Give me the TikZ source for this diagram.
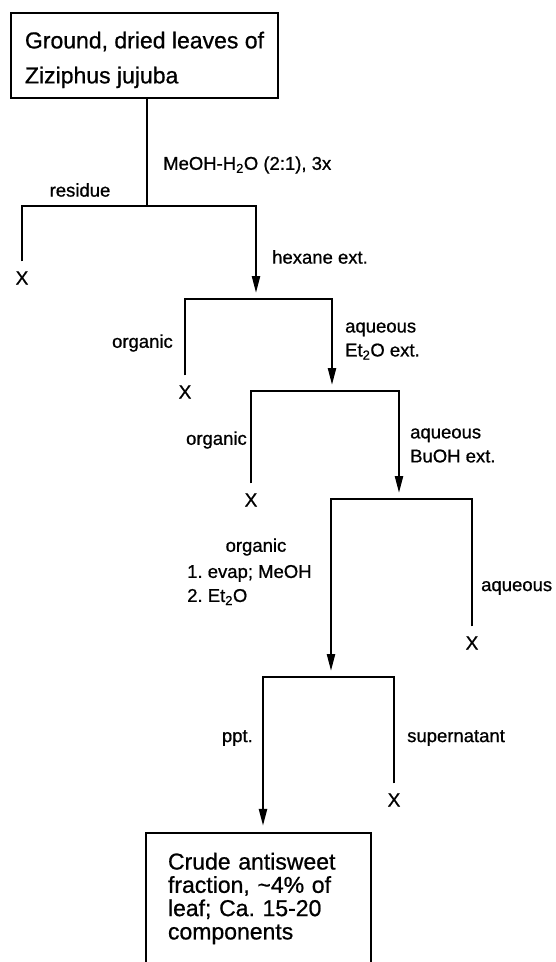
\documentclass[tikz,border=0pt]{standalone}
\usepackage{fontspec}
\setmainfont{Liberation Sans}[FakeBold=0.8]
\usetikzlibrary{arrows.meta,calc}
\begin{document}
\frenchspacing
\begin{tikzpicture}[x=1pt,y=-1pt,
  ln/.style={line width=2.3pt},
  arr/.style={ln,-{Triangle[length=17pt,width=8pt]},shorten >=6pt},
  boxnode/.style={draw,line width=2.3pt,align=left,inner sep=0pt},
  lbl/.style={font=\fontsize{18.5}{24}\selectfont,inner sep=0pt,align=left},
  xn/.style={font=\fontsize{19}{24}\selectfont,inner sep=0pt,outer ysep=10pt},
]
\fill[white] (0,0) rectangle (556,962);
\useasboundingbox (0,0) rectangle (556,962);

% boxes
\node[boxnode,minimum width=267pt,minimum height=85pt,font=\fontsize{23}{35}\selectfont]
  (src) at (144.5,55.5) {\rule{0pt}{25.5pt}Ground, dried leaves of\\Ziziphus jujuba};
\node[boxnode,minimum width=225pt,minimum height=131pt,text width=181pt,font=\fontsize{23}{23.3}\selectfont]
  (dst) at (258.5,898.5) {Crude antisweet\\fraction, \textasciitilde4\% of\\leaf; Ca. 15-20\\components};

% junction coordinates
\coordinate (j1) at (147,206);
\coordinate (b1r) at (256,206);
\coordinate (j2) at (256,299);
\coordinate (b2r) at (332,299);
\coordinate (j3) at (332,391);
\coordinate (b3r) at (399,391);
\coordinate (j4) at (399,499);
\coordinate (b4l) at (331,499);
\coordinate (j5) at (331,677);
\coordinate (b5l) at (263,677);

% discarded fractions
\node[xn] (x1) at (22,278) {X};
\node[xn] (x2) at (185,392) {X};
\node[xn] (x3) at (251,500) {X};
\node[xn] (x4) at (472,643) {X};
\node[xn] (x5) at (394,800) {X};

% connectors
\draw[ln] (src.south -| j1) -- (j1);
\draw[arr] (x1.north) |- (b1r) -- (j2);
\draw[arr] (x2.north) |- (b2r) -- (j3);
\draw[arr] (x3.north) |- (b3r) -- (j4);
\draw[arr] (x4.north) |- (b4l) -- (j5);
\draw[arr] (x5.north) |- (b5l) -- (dst.north -| b5l);

% labels
\node[lbl,anchor=west] (l0) at (163,165) {MeOH-H\textsubscript{2}O (2:1), 3x};
\node[lbl] (l1) at (80,190) {residue};
\node[lbl,anchor=west] (l2) at (272,257) {hexane ext.};
\node[lbl,anchor=east] (l3) at (173,343) {organic};
\node[lbl,anchor=west] (l4) at (345,341) {aqueous\\Et\textsubscript{2}O ext.};
\node[lbl,anchor=east] (l5) at (247,440) {organic};
\node[lbl,anchor=west] (l6) at (410,445.5) {aqueous\\BuOH ext.};
\node[lbl] (l7) at (256,547) {organic};
\node[lbl,anchor=west] (l8) at (187,585) {1. evap; MeOH\\2. Et\textsubscript{2}O};
\node[lbl,anchor=west] (l9) at (481,588) {aqueous};
\node[lbl,anchor=east] (l10) at (253,738) {ppt.};
\node[lbl,anchor=west] (l11) at (407,738) {supernatant};
\end{tikzpicture}
\end{document}
